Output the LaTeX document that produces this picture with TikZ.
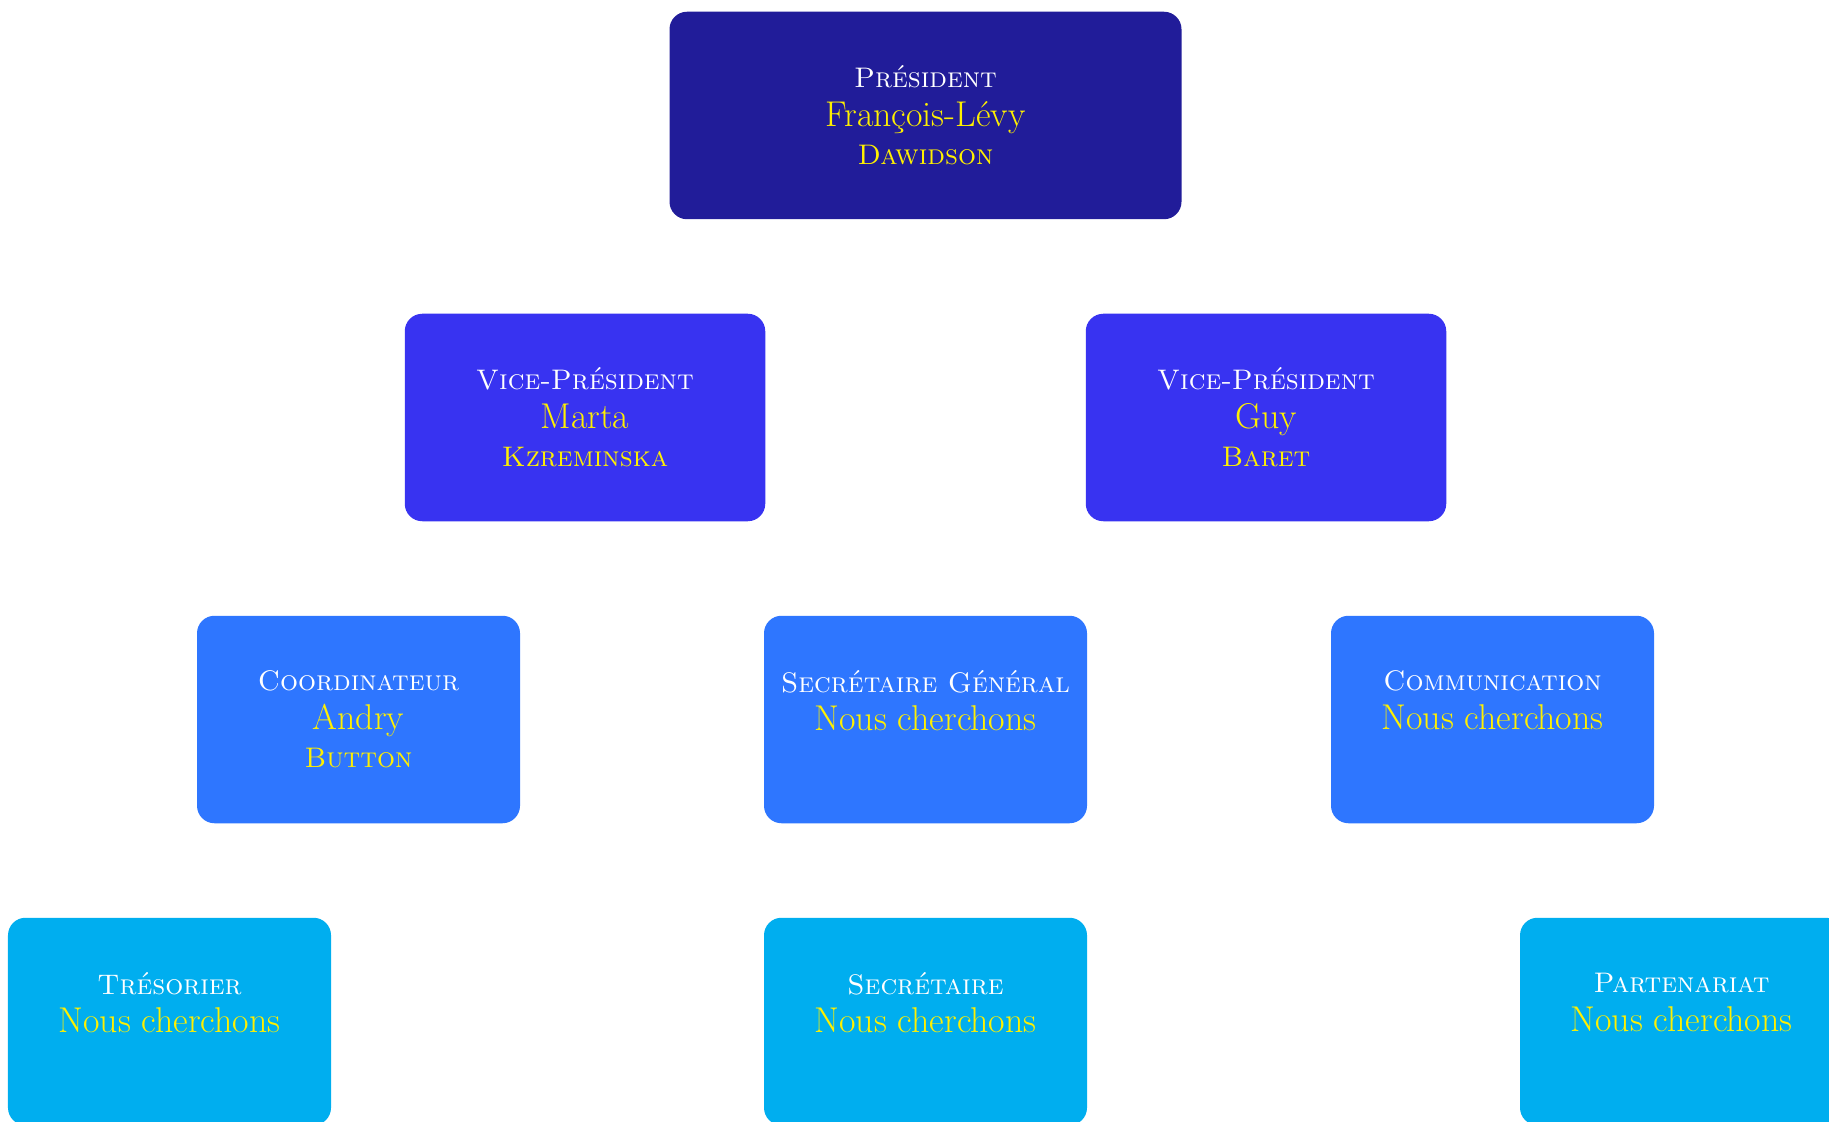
\documentclass[tikz,border=0pt]{standalone}
\usepackage{fontspec}
\usepackage{tikz}

\definecolor{presblue}{HTML}{211C99}
\definecolor{viceblue}{HTML}{3833F1}
\definecolor{respblue}{HTML}{2E76FF}
\definecolor{memblue}{HTML}{00AEEF}
\definecolor{nameyellow}{HTML}{FFF000}

\newcommand{\nomfont}{\fontsize{20.4}{21.9}\selectfont}
\newcommand{\poste}[3]{\textsc{#1}\\{\nomfont\textcolor{nameyellow}{#2}}\\\textcolor{nameyellow}{\textsc{#3}}}

\begin{document}
\begin{tikzpicture}[node distance=6.04cm]
        \tikzstyle{box} = [rectangle, rounded corners=0.35cm, minimum height=4.15cm, text centered, align=center, text=white, font=\fontsize{16.1}{21.9}\selectfont]
        \tikzstyle{presbox} = [box, minimum width=10.24cm, fill=presblue]
        \tikzstyle{vicebox} = [box, minimum width=7.21cm, fill=viceblue]
        \tikzstyle{respbox} = [box, minimum width=6.46cm, fill=respblue]
        \tikzstyle{membox} = [box, minimum width=6.46cm, fill=memblue]

        \useasboundingbox (0,0) rectangle (36.58,-22.44);

        \node (pres) [presbox] at (18.51,-2.31) {\poste{Président}{François-Lévy}{Dawidson}};
        \node (vice1) [vicebox, below of=pres, xshift=-6.81cm] {\poste{Vice-Président}{Marta}{Kzreminska}};
        \node (vice2) [vicebox, below of=pres, xshift=6.81cm] {\poste{Vice-Président}{Guy}{Baret}};
        \node (coord) [respbox, below of=vice1, xshift=-4.53cm] {\poste{Coordinateur}{Andry}{Button}};
        \node (secgen) [respbox, below of=vice1, xshift=6.81cm] {\poste{Secrétaire Général}{Nous cherchons}{}};
        \node (comm) [respbox, below of=vice2, xshift=4.53cm] {\poste{Communication}{Nous cherchons}{}};
        \node (treso) [membox, below of=coord, xshift=-3.78cm] {\poste{Trésorier}{Nous cherchons}{}};
        \node (secr) [membox, below of=secgen] {\poste{Secrétaire}{Nous cherchons}{}};
        \node (parten) [membox, below of=comm, xshift=3.78cm] {\poste{Partenariat}{Nous cherchons}{}};
    \end{tikzpicture}
\end{document}
